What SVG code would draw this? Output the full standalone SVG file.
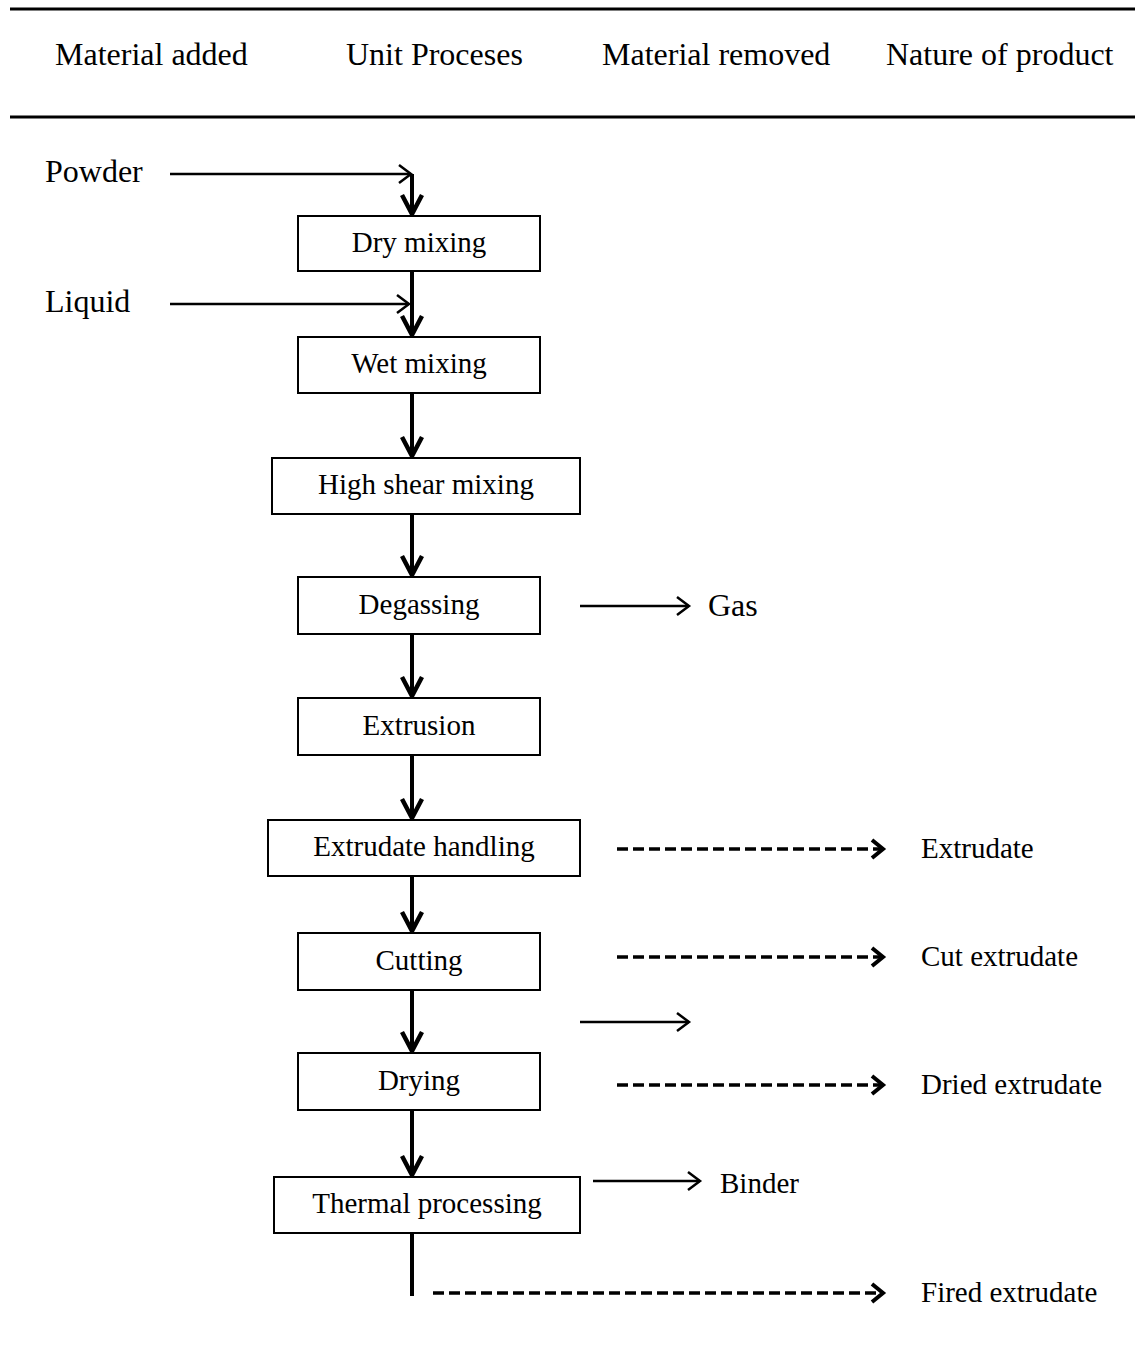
<svg xmlns="http://www.w3.org/2000/svg" width="1135" height="1358" viewBox="0 0 1135 1358">
<style>
text{font-family:"Liberation Serif","Times New Roman",serif;fill:#000}
.h{font-size:32px}
.b{font-size:29px;text-anchor:middle}
.l{font-size:29px}
.box{fill:#fff;stroke:#000;stroke-width:2}
.main{stroke:#000;stroke-width:4;fill:none}
.thin{stroke:#000;stroke-width:2.5;fill:none}
.dash{stroke:#000;stroke-width:3.5;fill:none;stroke-dasharray:11,5}
.rule{stroke:#000;stroke-width:3}
</style>
<defs>
<marker id="mv" markerUnits="userSpaceOnUse" viewBox="-24 -14 28 28" markerWidth="28" markerHeight="28" refX="0" refY="0" orient="auto">
<path d="M-19,-10 L0,0 L-19,10" fill="none" stroke="#000" stroke-width="4.5"/>
</marker>
<marker id="mt" markerUnits="userSpaceOnUse" viewBox="-16 -12 20 24" markerWidth="20" markerHeight="24" refX="0" refY="0" orient="auto">
<path d="M-12,-9 L0,0 L-12,9" fill="none" stroke="#000" stroke-width="2.5"/>
</marker>
<marker id="md" markerUnits="userSpaceOnUse" viewBox="-16 -12 20 24" markerWidth="20" markerHeight="24" refX="0" refY="0" orient="auto">
<path d="M-11,-9 L0,0 L-11,9" fill="none" stroke="#000" stroke-width="4"/>
</marker>
</defs>
<g id="header">
<line class="rule" x1="10" y1="9" x2="1135" y2="9"/>
<line class="rule" x1="10" y1="117" x2="1135" y2="117"/>
<text class="h" x="55" y="65">Material added</text>
<text class="h" x="346" y="65">Unit Proceses</text>
<text class="h" x="602" y="65">Material removed</text>
<text class="h" x="886" y="65">Nature of product</text>
</g>
<g id="connectors">
<line class="thin" x1="170" y1="174" x2="411" y2="174" marker-end="url(#mt)"/>
<line class="thin" x1="170" y1="304" x2="409" y2="304" marker-end="url(#mt)"/>
<line class="main" x1="412" y1="174" x2="412" y2="214" marker-end="url(#mv)"/>
<line class="main" x1="412" y1="271" x2="412" y2="335" marker-end="url(#mv)"/>
<line class="main" x1="412" y1="393" x2="412" y2="456" marker-end="url(#mv)"/>
<line class="main" x1="412" y1="514" x2="412" y2="575" marker-end="url(#mv)"/>
<line class="main" x1="412" y1="634" x2="412" y2="696" marker-end="url(#mv)"/>
<line class="main" x1="412" y1="755" x2="412" y2="818" marker-end="url(#mv)"/>
<line class="main" x1="412" y1="876" x2="412" y2="931" marker-end="url(#mv)"/>
<line class="main" x1="412" y1="990" x2="412" y2="1051" marker-end="url(#mv)"/>
<line class="main" x1="412" y1="1110" x2="412" y2="1175" marker-end="url(#mv)"/>
<line class="main" x1="412" y1="1233" x2="412" y2="1296"/>
<line class="thin" x1="580" y1="606" x2="689" y2="606" marker-end="url(#mt)"/>
<line class="thin" x1="580" y1="1022" x2="689" y2="1022" marker-end="url(#mt)"/>
<line class="thin" x1="593" y1="1181" x2="700" y2="1181" marker-end="url(#mt)"/>
<line class="dash" x1="617" y1="849" x2="883" y2="849" marker-end="url(#md)"/>
<line class="dash" x1="617" y1="957" x2="883" y2="957" marker-end="url(#md)"/>
<line class="dash" x1="617" y1="1085" x2="883" y2="1085" marker-end="url(#md)"/>
<line class="dash" x1="433" y1="1293" x2="883" y2="1293" marker-end="url(#md)"/>
</g>
<g id="inputs">
<text class="l" x="45" y="182" style="font-size:32px">Powder</text>
<text class="l" x="45" y="312" style="font-size:32px">Liquid</text>
</g>
<g id="dry"><rect class="box" x="298" y="216" width="242" height="55"/><text class="b" x="419" y="252">Dry mixing</text></g>
<g id="wet"><rect class="box" x="298" y="337" width="242" height="56"/><text class="b" x="419" y="373">Wet mixing</text></g>
<g id="highshear"><rect class="box" x="272" y="458" width="308" height="56"/><text class="b" x="426" y="494">High shear mixing</text></g>
<g id="degassing"><rect class="box" x="298" y="577" width="242" height="57"/><text class="b" x="419" y="614">Degassing</text></g>
<g id="extrusion"><rect class="box" x="298" y="698" width="242" height="57"/><text class="b" x="419" y="735">Extrusion</text></g>
<g id="handling"><rect class="box" x="268" y="820" width="312" height="56"/><text class="b" x="424" y="856">Extrudate handling</text></g>
<g id="cutting"><rect class="box" x="298" y="933" width="242" height="57"/><text class="b" x="419" y="970">Cutting</text></g>
<g id="drying"><rect class="box" x="298" y="1053" width="242" height="57"/><text class="b" x="419" y="1090">Drying</text></g>
<g id="thermal"><rect class="box" x="274" y="1177" width="306" height="56"/><text class="b" x="427" y="1213">Thermal processing</text></g>
<g id="outputs">
<text class="l" x="708" y="616" style="font-size:32px">Gas</text>
<text class="l" x="720" y="1193">Binder</text>
<text class="l" x="921" y="858">Extrudate</text>
<text class="l" x="921" y="966">Cut extrudate</text>
<text class="l" x="921" y="1094">Dried extrudate</text>
<text class="l" x="921" y="1302">Fired extrudate</text>
</g>
</svg>
